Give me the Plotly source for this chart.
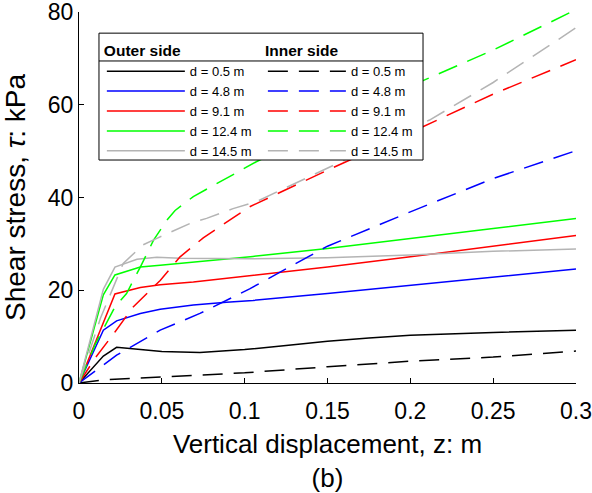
import plotly.graph_objects as go

# ---------------- data ----------------
depth_labels = ["d = 0.5 m", "d = 4.8 m", "d = 9.1 m", "d = 12.4 m", "d = 14.5 m"]
series_colors = ["#000000", "#0000ff", "#ff0000", "#00ff00", "#b4b4b4"]

# Outer side (solid lines)
outer_x_05 = [0, 0.0147, 0.0227, 0.037, 0.05, 0.073, 0.1, 0.125, 0.15, 0.175, 0.2, 0.25, 0.3]
outer_y_05 = [0, 5.8, 7.7, 7.3, 6.8, 6.6, 7.2, 8.1, 9.0, 9.7, 10.3, 10.9, 11.4]
outer_x_48 = [0, 0.0147, 0.0227, 0.037, 0.049, 0.069, 0.089, 0.105, 0.15, 0.2, 0.25, 0.3]
outer_y_48 = [0, 11.4, 13.4, 15.0, 15.9, 16.8, 17.4, 17.8, 19.3, 21.1, 22.9, 24.6]
outer_x_91 = [0, 0.0217, 0.037, 0.049, 0.069, 0.105, 0.15, 0.2, 0.25, 0.3]
outer_y_91 = [0, 19.2, 20.6, 21.2, 21.8, 23.2, 25.0, 27.2, 29.5, 31.8]
outer_x_124 = [0, 0.0147, 0.0217, 0.037, 0.049, 0.061, 0.105, 0.15, 0.2, 0.25, 0.3]
outer_y_124 = [0, 19.0, 23.3, 25.0, 25.4, 25.8, 27.3, 29.0, 31.1, 33.3, 35.5]
outer_x_145 = [0, 0.0147, 0.0217, 0.035, 0.047, 0.061, 0.105, 0.15, 0.2, 0.25, 0.3]
outer_y_145 = [0, 20.2, 25.0, 26.7, 27.1, 26.9, 26.8, 27.0, 27.6, 28.4, 28.9]

# Inner side (dashed lines)
inner_x_05 = [0, 0.015, 0.05, 0.1, 0.15, 0.2, 0.25, 0.3]
inner_y_05 = [0, 0.7, 1.3, 2.2, 3.5, 4.7, 5.6, 6.9]
inner_x_48 = [0, 0.0227, 0.049, 0.073, 0.103, 0.15, 0.2, 0.25, 0.3]
inner_y_48 = [0, 6.0, 11.4, 15.0, 20.3, 29.5, 36.9, 44.1, 50.1]
inner_x_91 = [0, 0.01, 0.0217, 0.0327, 0.049, 0.061, 0.075, 0.089, 0.103, 0.15, 0.2, 0.25, 0.3]
inner_y_91 = [0, 5.5, 11.0, 16.4, 22.1, 27.2, 31.3, 34.7, 38.0, 45.9, 54.0, 62.3, 69.7]
inner_x_124 = [0, 0.01, 0.0217, 0.0287, 0.037, 0.045, 0.053, 0.058, 0.069, 0.083, 0.107, 0.15, 0.2, 0.25, 0.3]
inner_y_124 = [0, 8.5, 16.4, 19.3, 25.0, 30.8, 35.1, 37.2, 40.2, 43.0, 47.7, 55.2, 64.0, 71.8, 80.5]
inner_x_145 = [0, 0.013, 0.0267, 0.0387, 0.047, 0.056, 0.067, 0.077, 0.093, 0.107, 0.15, 0.2116, 0.25, 0.3]
inner_y_145 = [0, 14.0, 25.8, 29.8, 31.2, 32.6, 34.4, 35.5, 37.6, 39.1, 46.3, 56.7, 64.8, 76.6]

x_tick_vals = [0, 0.05, 0.1, 0.15, 0.2, 0.25, 0.3]
x_tick_text = ["0", "0.05", "0.1", "0.15", "0.2", "0.25", "0.3"]
y_tick_vals = [0, 20, 40, 60, 80]

outer_xs = [outer_x_05, outer_x_48, outer_x_91, outer_x_124, outer_x_145]
outer_ys = [outer_y_05, outer_y_48, outer_y_91, outer_y_124, outer_y_145]
inner_xs = [inner_x_05, inner_x_48, inner_x_91, inner_x_124, inner_x_145]
inner_ys = [inner_y_05, inner_y_48, inner_y_91, inner_y_124, inner_y_145]

FONT = "Liberation Sans, Arial, Helvetica, sans-serif"

fig = go.Figure()
for xs, ys, name, col in zip(outer_xs, outer_ys, depth_labels, series_colors):
    fig.add_trace(go.Scatter(x=xs, y=ys, mode="lines", name=name,
                             line=dict(color=col, width=1.5),
                             legend="legend", showlegend=True))
for xs, ys, name, col in zip(inner_xs, inner_ys, depth_labels, series_colors):
    fig.add_trace(go.Scatter(x=xs, y=ys, mode="lines", name=name,
                             line=dict(color=col, width=1.5, dash="20px,11px"),
                             legend="legend2", showlegend=True))

# legend frame (white box with a rule under the headers)
box_x0, box_x1, box_y0, box_y1, rule_y = 0.0402, 0.6922, 0.601, 0.943, 0.868
fig.add_shape(type="rect", xref="paper", yref="paper", x0=box_x0, x1=box_x1,
              y0=box_y0, y1=box_y1, fillcolor="white",
              line=dict(color="black", width=1), layer="above")
fig.add_shape(type="line", xref="paper", yref="paper", x0=box_x0, x1=box_x1,
              y0=rule_y, y1=rule_y, line=dict(color="black", width=1), layer="above")

legend_common = dict(xanchor="left", yanchor="top", bgcolor="rgba(0,0,0,0)",
                     borderwidth=0, font=dict(size=13, family=FONT, color="black"),
                     itemwidth=78, tracegroupgap=0, traceorder="normal")

fig.update_layout(
    width=592, height=493,
    margin=dict(l=79, r=16, t=12, b=110, autoexpand=False),
    plot_bgcolor="white", paper_bgcolor="white",
    font=dict(family=FONT, color="black"),
    hovermode=False,
    legend=dict(x=0.046, y=0.935,
                title=dict(text="<b>Outer side</b>", font=dict(size=15.5, family=FONT)),
                **legend_common),
    legend2=dict(x=0.370, y=0.935,
                 title=dict(text="<b>Inner side</b>", font=dict(size=15.5, family=FONT)),
                 **legend_common),
    xaxis=dict(range=[0, 0.3], tickmode="array", tickvals=x_tick_vals, ticktext=x_tick_text,
               ticks="inside", ticklen=5, tickcolor="black", showline=True,
               linecolor="black", linewidth=1, showgrid=False, zeroline=False,
               automargin=False, ticklabelstandoff=7, ticklabeloverflow="allow",
               tickfont=dict(size=23, family=FONT),
               title=dict(text="Vertical displacement, z: m<br>(b)",
                          font=dict(size=26, family=FONT), standoff=14)),
    yaxis=dict(range=[0, 80], tickmode="array", tickvals=y_tick_vals,
               ticks="inside", ticklen=5, tickcolor="black", showline=True,
               linecolor="black", linewidth=1, showgrid=False, zeroline=False,
               automargin=False, ticklabeloverflow="allow",
               tickfont=dict(size=23, family=FONT),
               title=dict(text="Shear stress, <i>τ</i>: kPa",
                          font=dict(size=28, family=FONT), standoff=19)),
)

# remove the default page margin so the figure sits at the window's corner
fig.write_html("out.html", config={"displayModeBar": False},
               post_script="document.body.style.margin='0px';")
